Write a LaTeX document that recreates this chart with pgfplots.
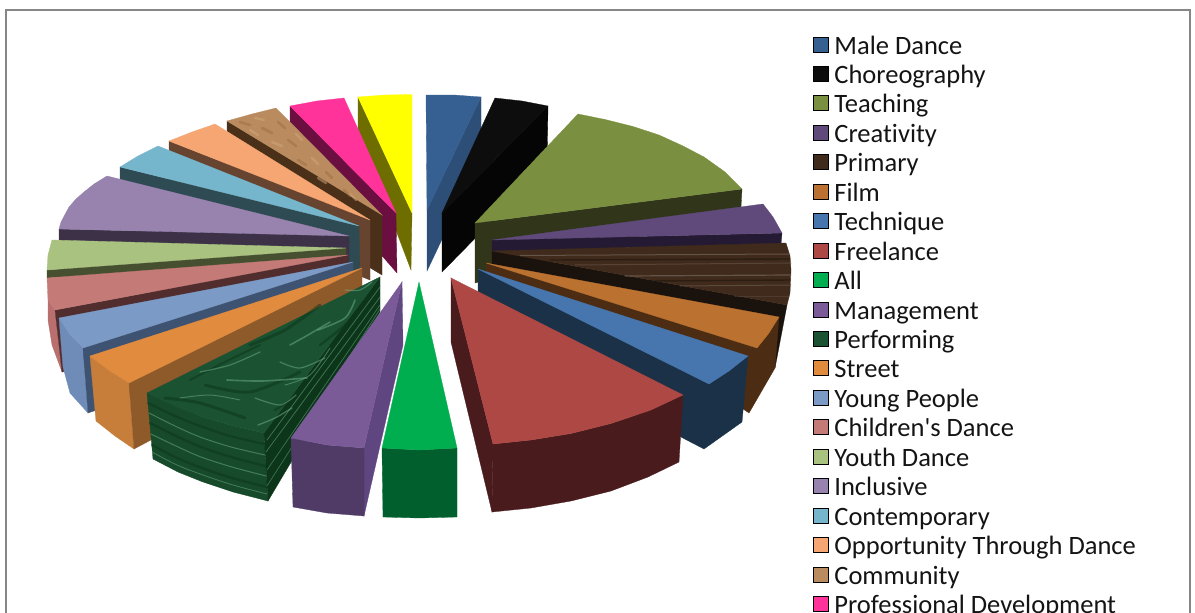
\documentclass[border=0pt]{standalone}
\usepackage{pgfplots}
\pgfplotsset{compat=1.18}
\usepackage{fontspec}
\setmainfont{Carlito}
\newfontfamily\plainf[Ligatures=NoCommon]{Carlito}
\definecolor{mdT}{HTML}{376092}\definecolor{mdW}{HTML}{2C4E77}
\definecolor{chT}{HTML}{0D0D0D}\definecolor{chW}{HTML}{050505}
\definecolor{teT}{HTML}{7A9040}\definecolor{teW}{HTML}{31361A}
\definecolor{crT}{HTML}{604A7B}\definecolor{crW}{HTML}{251A33}
\definecolor{prT}{HTML}{3F2A1B}\definecolor{prW}{HTML}{1A120C}
\definecolor{fiT}{HTML}{BB7130}\definecolor{fiW}{HTML}{4C2C12}
\definecolor{tcT}{HTML}{4776AF}\definecolor{tcW}{HTML}{1B3148}
\definecolor{frT}{HTML}{AE4845}\definecolor{frW}{HTML}{4A1B1D}
\definecolor{alT}{HTML}{00AD4F}\definecolor{alW}{HTML}{005F2C}
\definecolor{maT}{HTML}{7A5B98}\definecolor{maF}{HTML}{4F3B66}\definecolor{maW}{HTML}{5F4680}
\definecolor{peT}{HTML}{1B5232}\definecolor{peW}{HTML}{174A2A}\definecolor{peL}{HTML}{6FB08B}\definecolor{peD}{HTML}{0C3519}
\definecolor{stT}{HTML}{E18B3F}\definecolor{stF}{HTML}{C87E3B}\definecolor{stW}{HTML}{8F5A2A}
\definecolor{yoT}{HTML}{7C9AC6}\definecolor{yoF}{HTML}{6F8CB8}\definecolor{yoW}{HTML}{3E5372}
\definecolor{ciT}{HTML}{C47B78}\definecolor{ciF}{HTML}{B86F6E}\definecolor{ciW}{HTML}{522D2E}
\definecolor{ydT}{HTML}{A9C280}\definecolor{ydW}{HTML}{464F30}
\definecolor{inT}{HTML}{9882AE}\definecolor{inW}{HTML}{3D3148}
\definecolor{coT}{HTML}{76B6CC}\definecolor{coW}{HTML}{2E4A52}
\definecolor{opT}{HTML}{F5A673}\definecolor{opW}{HTML}{664430}
\definecolor{cmT}{HTML}{B98B5F}\definecolor{cmW}{HTML}{4A3018}\definecolor{cmD}{HTML}{9C6E42}\definecolor{cmL}{HTML}{D0A77A}
\definecolor{pdT}{HTML}{FF3399}\definecolor{pdW}{HTML}{6A0F40}
\definecolor{yeT}{HTML}{FFFF00}\definecolor{yeW}{HTML}{6E6E00}
\definecolor{frame}{HTML}{868686}
\newcommand{\poly}[2]{\addplot[forget plot,fill=#1,draw=#1,line width=0.3pt] coordinates {#2} -- cycle;}
\newcommand{\streak}[3]{\addplot[forget plot,draw=#1,line width=#2,opacity=0.5,line cap=round,smooth] coordinates {#3};}
\pgfplotsset{leg/.style={/pgfplots/legend image code/.code={\fill[##1] (0pt,-1pt) rectangle (15pt,14pt);}}}
\begin{document}
\begin{tikzpicture}
\path[use as bounding box,clip] (0,0) rectangle (1195pt,613pt);
\begin{axis}[scale only axis,width=1195pt,height=613pt,xmin=0,xmax=1195,ymin=0,ymax=613,y dir=reverse,hide axis,clip=false,
  legend cell align=left,
  legend style={draw=none,fill=none,at={(axis cs:813,36)},anchor=north west,inner sep=0pt,outer sep=0pt,
    /tikz/column sep=6pt,
    nodes={inner sep=0pt,outer sep=0pt,text height=18pt,text depth=11.45pt,font=\fontsize{26.5}{26.5}\plainf,text=black!92}},
]
% legend
\addlegendimage{leg,fill=mdT}\addlegendentry{Male Dance}
\addlegendimage{leg,fill=chT}\addlegendentry{Choreography}
\addlegendimage{leg,fill=teT}\addlegendentry{Teaching}
\addlegendimage{leg,fill=crT}\addlegendentry{Creativity}
\addlegendimage{leg,fill=prT}\addlegendentry{Primary}
\addlegendimage{leg,fill=fiT}\addlegendentry{Film}
\addlegendimage{leg,fill=tcT}\addlegendentry{Technique}
\addlegendimage{leg,fill=frT}\addlegendentry{Freelance}
\addlegendimage{leg,fill=alT}\addlegendentry{All}
\addlegendimage{leg,fill=maT}\addlegendentry{Management}
\addlegendimage{leg,fill=peT}\addlegendentry{Performing}
\addlegendimage{leg,fill=stT}\addlegendentry{Street}
\addlegendimage{leg,fill=yoT}\addlegendentry{Young People}
\addlegendimage{leg,fill=ciT}\addlegendentry{Children's Dance}
\addlegendimage{leg,fill=ydT}\addlegendentry{Youth Dance}
\addlegendimage{leg,fill=inT}\addlegendentry{Inclusive}
\addlegendimage{leg,fill=coT}\addlegendentry{Contemporary}
\addlegendimage{leg,fill=opT}\addlegendentry{Opportunity Through Dance}
\addlegendimage{leg,fill=cmT}\addlegendentry{Community}
\addlegendimage{leg,fill=pdT}\addlegendentry{Professional Development}
% frame
\addplot[forget plot,draw=frame,line width=1.6pt] coordinates {(6,613) (6,10) (1190,10) (1190,613)};
% yellow
\poly{yeW}{(358,97) (412,213) (411,270) (358,130)}
\poly{yeT}{(358,97) (385,95) (412,94.5) (412,213)}
% professional development
\poly{pdW}{(290,106) (396,213) (397,273) (290,150)}
\poly{pdT}{(290,106) (317,101) (344,98) (396,213)}
% community
\poly{cmW}{(227,121) (382,215) (382,275) (227,181)}
\poly{cmT}{(227,121) (252,114) (276,108) (382,215)}
\streak{cmD}{2.6pt}{(240,122) (250,125)}
\streak{cmL}{2.4pt}{(255,118) (264,120)}
\streak{cmD}{2.8pt}{(262,128) (272,133)}
\streak{cmL}{2.5pt}{(250,130) (258,135)}
\streak{cmD}{2.6pt}{(278,122) (285,128)}
\streak{cmL}{2.6pt}{(272,142) (282,146)}
\streak{cmD}{2.6pt}{(288,140) (296,146)}
\streak{cmL}{2.4pt}{(296,134) (302,140)}
\streak{cmD}{2.6pt}{(298,160) (306,165)}
\streak{cmL}{2.5pt}{(312,158) (318,164)}
\streak{cmD}{2.6pt}{(326,172) (332,178)}
\streak{cmL}{2.5pt}{(318,178) (326,183)}
\streak{cmD}{2.4pt}{(344,190) (350,196)}
\streak{cmL}{2.3pt}{(350,194) (356,200)}
% opportunity
\poly{opW}{(169,141) (370,220) (370,280) (169,201)}
\poly{opT}{(169,141) (192,132) (215,124) (370,220)}
% contemporary
\poly{coW}{(120,167) (359,226) (360,286) (120,227)}
\poly{coT}{(120,167) (138,156) (158,146) (359,226)}
% inclusive
\poly{inW}{(59,229) (349,236) (349,296) (59,289)}
\poly{inT}{(59,229) (61,222) (69,207) (76,199) (84,192) (94,184) (107,176) (349,236)}
% youth
\poly{ydW}{(47,270) (346,248) (346,256) (47,278)}
\poly{ydT}{(52,240) (48,255) (47,270) (346,248)}
% children's
\poly{ciF}{(48,300) (55,310) (62,372) (52,345) (48,320)}
\poly{ciW}{(55,310) (348,255) (348,315) (62,372)}
\poly{ciT}{(47,278) (48,300) (55,310) (348,255)}
% young people
\poly{yoF}{(59,318) (70,335) (83,348) (88,413) (70,393) (63,367)}
\poly{yoW}{(83,348) (353,262) (353,322) (88,413)}
\poly{yoT}{(59,318) (70,335) (83,348) (353,262)}
% street
\poly{stF}{(90,356) (110,371) (129,383) (134,449) (115,436) (96,421)}
\poly{stW}{(129,383) (362,268) (362,328) (134,449)}
\poly{stT}{(90,356) (110,371) (129,383) (362,268)}
% performing
\poly{peW}{(147,393) (175,406) (200,416) (230,425) (264,433) (268,501) (233,492) (203,482) (178,472) (153,459)}
\poly{peD}{(264,433) (380,277) (380,312) (268,501)}
\poly{peT}{(147,393) (175,406) (200,416) (230,425) (264,433) (380,277)}
% performing: marble of the top
\streak{peD}{3pt}{(165,398) (200,403) (245,418)}
\streak{peD}{3pt}{(205,385) (250,392) (300,372)}
\streak{peD}{3pt}{(250,345) (285,330) (320,305)}
\streak{peD}{2.5pt}{(275,410) (310,385) (330,355)}
\streak{peD}{2.5pt}{(320,345) (345,325) (362,305)}
\streak{peD}{2pt}{(190,380) (225,362) (260,345)}
\streak{peL}{1.6pt}{(227,380) (262,381) (307,378)}
\streak{peL}{1.2pt}{(255,398) (280,405) (296,395)}
\streak{peL}{1.6pt}{(290,345) (308,335) (330,322)}
\streak{peL}{1.6pt}{(318,330) (345,318) (355,300)}
\streak{peL}{1.2pt}{(200,372) (230,365) (260,352)}
\streak{peL}{1.4pt}{(258,425) (275,418) (292,408)}
\streak{peL}{1.2pt}{(280,362) (300,368) (325,358)}
\streak{peL}{1.2pt}{(345,290) (360,290) (372,282)}
\streak{peL}{1pt}{(180,398) (210,395) (240,400)}
\streak{peL}{1pt}{(285,385) (310,375) (330,348)}
% performing: grain of the walls
\streak{peD}{2.2pt}{(148,403) (175,416) (200,426) (230,436) (264,444)}
\streak{peL}{1pt}{(149,413) (175,426) (200,437) (231,447) (265,455)}
\streak{peD}{2.4pt}{(150,423) (176,436) (201,447) (231,457) (265,466)}
\streak{peL}{1pt}{(151,434) (176,446) (201,457) (232,467) (266,476)}
\streak{peD}{2.4pt}{(152,445) (177,458) (202,468) (232,478) (267,487)}
\streak{peL}{0.8pt}{(152,452) (177,465) (203,475) (233,485) (267,494)}
\streak{peL}{0.8pt}{(267,440) (380,287)}
\streak{peL}{0.8pt}{(266,452) (380,297)}
\streak{peL}{0.7pt}{(267,470) (380,305)}
\streak{peL}{0.7pt}{(267,486) (380,309)}
% male dance
\poly{mdW}{(481,97) (427,210) (427,271) (481,157)}
\poly{mdT}{(426,95) (454,95) (481,97) (427,210)}
% choreography
\poly{chW}{(548,106) (442,213) (442,272) (547,165)}
\poly{chT}{(495,98) (522,101) (548,106) (442,213)}
% teaching
\poly{teW}{(475,223) (742,189) (741,207) (475,283)}
\poly{teT}{(578,114) (605,119.5) (633,126.5) (659,135) (683,146) (704,157) (725,172) (742,189) (475,223)}
% creativity
\poly{crW}{(492,240) (782,233) (781,244) (492,251)}
\poly{crT}{(763,204) (773,217) (782,233) (492,240)}
% primary
\poly{prW}{(492,251) (787,305) (775,368) (492,311)}
\poly{prT}{(492,251) (786,243) (790,256) (791,270) (790,293) (787,305)}
\streak{prW}{1.4pt}{(550,260) (790,259)}
\streak{prW}{1.4pt}{(650,281) (790,280)}
\streak{prT!60!white}{1pt}{(520,255.5) (790,254)}
\streak{prT!75!white}{1pt}{(575,265) (791,263)}
\streak{prT!60!white}{1.2pt}{(625,276) (791,275)}
\streak{prT!70!white}{1pt}{(680,286) (790,285)}
\streak{prT!75!white}{1pt}{(735,296) (789,296)}
% film
\poly{fiW}{(486,263) (757,348) (779,317) (775,368) (749,413) (730,400) (486,320)}
\poly{fiT}{(486,263) (779,317) (769,333) (757,348)}
% technique
\poly{tcW}{(478,269) (709,384) (748,356) (742,422) (704,449) (679,436) (478,330)}
\poly{tcT}{(478,269) (748,356) (729,371) (709,384)}
% management
\poly{maW}{(402,282) (403,345) (364,516) (364,448)}
\poly{maF}{(291,438) (327,445) (364,448) (364,516) (327,513) (293,507)}
\poly{maT}{(402,282) (364,448) (327,445) (291,438)}
% all
\poly{alW}{(382,448) (419,450) (457,448) (457,517) (419,518) (383,517)}
\poly{alT}{(419,282) (457,448) (419,450) (382,448)}
% freelance
\poly{frW}{(451,278) (451,342) (492,512) (493,444)}
\poly{frW}{(493,444) (531,440) (571,433.5) (611,423.5) (651,410) (683,395) (679,462) (648,477) (611,491) (571,501) (531,508) (492,512)}
\poly{frT}{(451,278) (683,395) (651,410) (611,423.5) (571,433.5) (531,440) (493,444)}
\end{axis}
\end{tikzpicture}
\end{document}
